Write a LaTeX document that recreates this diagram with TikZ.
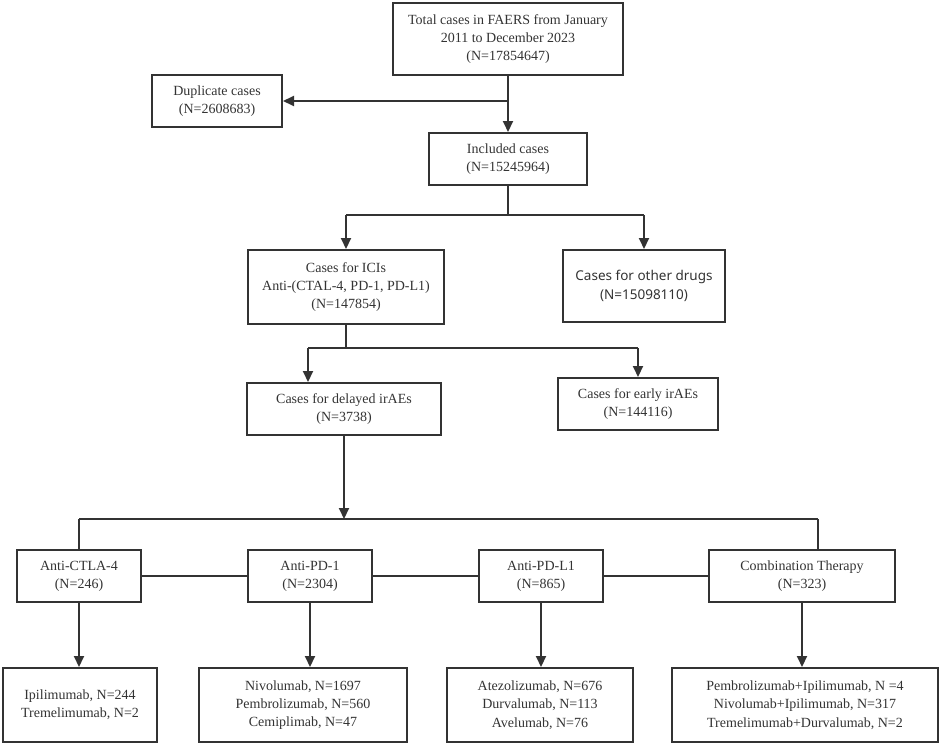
\documentclass[tikz,border=0pt]{standalone}
\usepackage{fontspec}
\setmainfont{Liberation Serif}
\newfontfamily\sansf{Noto Sans}
\usetikzlibrary{arrows.meta}
\definecolor{ink}{HTML}{333333}
\begin{document}
\begin{tikzpicture}[x=1pt,y=-1pt,
  box/.style={draw=ink, line width=2pt, text=ink, align=center, inner sep=0pt,
    font=\fontsize{14}{18.3}\selectfont},
  conn/.style={draw=ink, line width=2pt},
  arr/.style={conn, -{Triangle[length=11pt,width=10pt]}}]
\useasboundingbox (0,0) rectangle (941,744);
% top
\node[box, minimum width=230pt, minimum height=72pt] (total) at (508,39)
  {Total cases in FAERS from January\\2011 to December 2023\\(N=17854647)};
\node[box, minimum width=130pt, minimum height=52pt] (dup) at (217,101)
  {Duplicate cases\\(N=2608683)};
\node[box, minimum width=158pt, minimum height=52pt] (incl) at (508,159)
  {Included cases\\(N=15245964)};
\node[box, minimum width=196pt, minimum height=74pt] (icis) at (346,287)
  {Cases for ICIs\\Anti-(CTAL-4, PD-1, PD-L1)\\(N=147854)};
\node[box, minimum width=162pt, minimum height=72pt, font=\sansf\fontsize{13.5}{18.3}\selectfont] (other) at (644,286)
  {Cases for other drugs\\(N=15098110)};
\node[box, minimum width=194pt, minimum height=52pt] (delayed) at (344,409)
  {Cases for delayed irAEs\\(N=3738)};
\node[box, minimum width=160pt, minimum height=52pt] (early) at (638,404)
  {Cases for early irAEs\\(N=144116)};
% middle row
\node[box, minimum width=124pt, minimum height=52pt] (ctla) at (79,576)
  {Anti-CTLA-4\\(N=246)};
\node[box, minimum width=124pt, minimum height=52pt] (pd1) at (310,576)
  {Anti-PD-1\\(N=2304)};
\node[box, minimum width=124pt, minimum height=52pt] (pdl1) at (541,576)
  {Anti-PD-L1\\(N=865)};
\node[box, minimum width=186pt, minimum height=52pt] (comb) at (802,576)
  {Combination Therapy\\(N=323)};
% bottom row
\node[box, minimum width=154pt, minimum height=74pt] (b1) at (80,705)
  {Ipilimumab, N=244\\Tremelimumab, N=2};
\node[box, minimum width=208pt, minimum height=74pt] (b2) at (303,705)
  {Nivolumab, N=1697\\Pembrolizumab, N=560\\Cemiplimab, N=47};
\node[box, minimum width=186pt, minimum height=74pt] (b3) at (540,705)
  {Atezolizumab, N=676\\Durvalumab, N=113\\Avelumab, N=76};
\node[box, minimum width=266pt, minimum height=74pt] (b4) at (805,705)
  {Pembrolizumab+Ipilimumab, N =4\\Nivolumab+Ipilimumab, N=317\\Tremelimumab+Durvalumab, N=2};
% connectors
\coordinate (j1) at (508,101);
\draw[arr] (total.south) -- (incl.north);
\draw[arr] (j1) -- (j1 -| dup.east);
\coordinate (j2) at (508,215);
\coordinate (j2l) at (346,215);
\coordinate (j2r) at (644,215);
\draw[conn] (incl.south) -- (j2);
\draw[conn] (j2l) -- (j2r);
\draw[arr] (j2l) -- (icis.north);
\draw[arr] (j2r) -- (other.north);
\coordinate (j3) at (346,348);
\coordinate (j3l) at (308,348);
\coordinate (j3r) at (638,348);
\draw[conn] (icis.south) -- (j3);
\draw[conn] (j3l) -- (j3r);
\draw[arr] (j3l) -- (j3l |- delayed.north);
\draw[arr] (j3r) -- (early.north);
\coordinate (j4) at (344,519);
\coordinate (j4l) at (79,519);
\coordinate (j4r) at (818,519);
\draw[arr] (delayed.south) -- (j4);
\draw[conn] (j4l) -- (j4r);
\draw[conn] (j4l) -- (ctla.north);
\draw[conn] (j4r) -- (j4r |- comb.north);
\draw[conn] (ctla.east) -- (pd1.west);
\draw[conn] (pd1.east) -- (pdl1.west);
\draw[conn] (pdl1.east) -- (comb.west);
\draw[arr] (ctla.south) -- (ctla.south |- b1.north);
\draw[arr] (pd1.south) -- (pd1.south |- b2.north);
\draw[arr] (pdl1.south) -- (pdl1.south |- b3.north);
\draw[arr] (comb.south) -- (comb.south |- b4.north);
\end{tikzpicture}
\end{document}
